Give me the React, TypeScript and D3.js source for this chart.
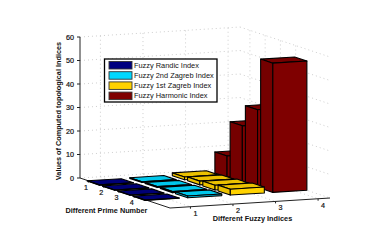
import React from 'react';
import * as d3 from 'd3';

const primes = [1, 2, 3, 4];
const indices = [1, 2, 3, 4];
const zTicks = [0, 10, 20, 30, 40, 50, 60];
const randic = [0.1, 0.1, 0.1, 0.1];
const zagreb2 = [0.3, 0.4, 0.5, 0.7];
const zagreb1 = [1.2, 1.6, 2, 2.5];
const harmonic = [9, 24, 33, 55];
const seriesValues = [randic, zagreb2, zagreb1, harmonic];
const seriesNames = ['Fuzzy Randic Index', 'Fuzzy 2nd Zagreb Index', 'Fuzzy 1st Zagreb Index', 'Fuzzy Harmonic Index'];
const seriesColors = ['#00007f', '#00d8ff', '#ffd200', '#7f0000'];

const font = 'Liberation Sans, Arial, sans-serif';
const pMin = 0.35, pMax = 6.25, fMin = 0.52, fMax = 4.28;
const zMax = 60;

// oblique projection of the 3d box
const pxX = d3.scaleLinear().domain([pMin, pMax]).range([0, 90]);
const pxY = d3.scaleLinear().domain([pMin, pMax]).range([0, 30]);
const fxX = d3.scaleLinear().domain([fMin, fMax]).range([0, 160]);
const fxY = d3.scaleLinear().domain([fMin, fMax]).range([0, -10]);
const zY = d3.scaleLinear().domain([0, zMax]).range([0, -141]);
const project = (p: number, f: number, z: number): [number, number] => [
  80 + pxX(p) + fxX(f),
  178 + pxY(p) + fxY(f) + zY(z),
];
const poly = (pts: [number, number][]) => d3.line()(pts) + 'Z';

function shade(color: string, k: number) {
  const c = d3.rgb(color);
  return d3.rgb(c.r * k, c.g * k, c.b * k).formatHex();
}

function Bar({ p, f, v, color }: { p: number; f: number; v: number; color: string }) {
  const w = 0.4;
  const p0 = p - w, p1 = p + w, f0 = f - w, f1 = f + w;
  return (
    <g stroke="#000" strokeWidth={1.1} strokeLinejoin="round">
      <path d={poly([project(p0, f0, v), project(p0, f1, v), project(p1, f1, v), project(p1, f0, v)])} fill={shade(color, 0.92)} />
      <path d={poly([project(p0, f0, 0), project(p1, f0, 0), project(p1, f0, v), project(p0, f0, v)])} fill={shade(color, 0.92)} />
      <path d={poly([project(p1, f0, 0), project(p1, f1, 0), project(p1, f1, v), project(p1, f0, v)])} fill={color} />
    </g>
  );
}

export default function App() {
  const grid = '#c8c8c8';
  const gridLines: [number, number, number, number, number, number][] = [];
  zTicks.forEach(z => {
    gridLines.push([pMin, fMin, z, pMin, fMax, z]);
    gridLines.push([pMin, fMax, z, pMax, fMax, z]);
  });
  primes.forEach(p => gridLines.push([p, fMax, 0, p, fMax, zMax]));
  indices.forEach(f => gridLines.push([pMin, f, 0, pMin, f, zMax]));
  primes.forEach(p => gridLines.push([p, fMin, 0, p, fMax, 0]));
  indices.forEach(f => gridLines.push([pMin, f, 0, pMax, f, 0]));

  const bars: { p: number; f: number; v: number; color: string }[] = [];
  [...indices].reverse().forEach(f => {
    primes.forEach(p => bars.push({ p, f, v: seriesValues[f - 1][p - 1], color: seriesColors[f - 1] }));
  });

  return (
    <svg width={379} height={250} style={{ position: 'absolute', left: 0, top: 0 }} fontFamily={font}>
      <rect width={379} height={250} fill="#fff" />
      {gridLines.map((g, i) => {
        const a = project(g[0], g[1], g[2]);
        const b = project(g[3], g[4], g[5]);
        return <line key={i} x1={a[0]} y1={a[1]} x2={b[0]} y2={b[1]} stroke={grid} strokeWidth={0.9} strokeDasharray="1 3" />;
      })}
      {/* axes */}
      <g stroke="#222" fill="none" strokeWidth={1}>
        <path d={d3.line()([project(pMin, fMin, zMax), project(pMin, fMin, 0), project(pMax, fMin, 0), project(pMax, fMax, 0)]) as string} />
        {zTicks.map(z => {
          const a = project(pMin, fMin, z);
          return <line key={z} x1={a[0] - 3} y1={a[1]} x2={a[0]} y2={a[1]} />;
        })}
        {primes.map(p => {
          const a = project(p, fMin, 0);
          return <line key={p} x1={a[0]} y1={a[1]} x2={a[0] - 2} y2={a[1] + 1} />;
        })}
        {indices.map(f => {
          const a = project(pMax, f, 0);
          return <line key={f} x1={a[0]} y1={a[1]} x2={a[0]} y2={a[1] + 2} />;
        })}
      </g>
      <g transform="translate(0,2)">
        {bars.map((b, i) => <Bar key={i} {...b} />)}
      </g>
      <g fontSize={7.2} fill="#111" stroke="#111" strokeWidth={0.2}>
        {zTicks.map(z => {
          const a = project(pMin, fMin, z);
          return <text key={z} x={a[0] - 6} y={a[1] + 2.5} textAnchor="end">{z}</text>;
        })}
        {primes.map(p => {
          const a = project(p, fMin, 0);
          return <text key={p} x={a[0] - 4} y={a[1] + 8.5} textAnchor="middle">{p}</text>;
        })}
        {indices.map(f => {
          const a = project(pMax, f, 0);
          return <text key={f} x={a[0] + 5} y={a[1] + 9} textAnchor="middle">{f}</text>;
        })}
      </g>
      <g fontSize={7.3} fontWeight="bold" fill="#111">
        <text x={0} y={0} transform="translate(61,111) rotate(-90)" textAnchor="middle">Values of Computed topological Indices</text>
        <text x={106.5} y={213.4} textAnchor="middle">Different Prime Number</text>
        <text x={252.5} y={221.4} textAnchor="middle">Different Fuzzy Indices</text>
      </g>
      <g>
        <rect x={104.5} y={59} width={112.5} height={43} fill="#fff" stroke="#000" strokeWidth={1.3} />
        {seriesNames.map((n, i) => (
          <g key={n}>
            <rect x={109} y={61.5 + i * 10.2} width={23} height={7.5} fill={seriesColors[i]} stroke="#333" strokeWidth={0.9} />
            <text x={134} y={67.7 + i * 10.2} fontSize={7.4} fill="#111">{n}</text>
          </g>
        ))}
      </g>
    </svg>
  );
}
